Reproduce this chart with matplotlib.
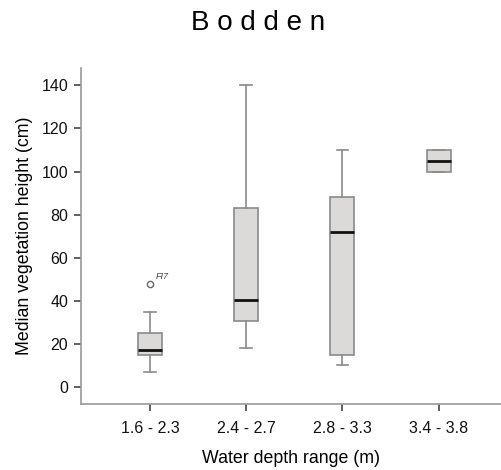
import matplotlib
matplotlib.use('Agg')
import matplotlib.pyplot as plt

plt.rcParams['font.family'] = ['Liberation Sans', 'DejaVu Sans']

# box statistics
groups = ['1.6 - 2.3', '2.4 - 2.7', '2.8 - 3.3', '3.4 - 3.8']
whislo = [7, 18, 10, 100]
q1 = [15, 30.5, 15, 100]
med = [17, 40.5, 72, 105]
q3 = [25, 83, 88, 110]
whishi = [35, 140, 110, 110]
fliers = [[48], [], [], []]
flier_label = 'FI7'

stats = []
for i in range(len(groups)):
    stats.append({'whislo': whislo[i], 'q1': q1[i], 'med': med[i], 'q3': q3[i],
                  'whishi': whishi[i], 'fliers': fliers[i], 'label': groups[i]})

fig = plt.figure(figsize=(5.02, 4.70), dpi=100)
ax = fig.add_axes([0.161, 0.140, 0.839, 0.715])

edge = '#8a8a8a'
ax.bxp(stats, positions=range(len(groups)), widths=0.25, patch_artist=True,
       boxprops=dict(facecolor='#dcd9d9', edgecolor=edge, linewidth=1.2),
       medianprops=dict(color='#111111', linewidth=2.0),
       whiskerprops=dict(color=edge, linewidth=1.2),
       capprops=dict(color=edge, linewidth=1.2),
       capwidths=0.12,
       flierprops=dict(marker='o', markersize=4.5, markerfacecolor='white',
                       markeredgecolor='#666666', markeredgewidth=1.0))

ax.annotate(flier_label, (0, fliers[0][0]), xytext=(4, 3), textcoords='offset points',
            fontsize=6.5, style='italic', color='#444444')

ax.set_xlim(-0.72, 3.66)
ax.set_ylim(-8, 148)
ax.set_yticks(range(0, 141, 20))
ax.set_xticks(range(len(groups)))
ax.set_xticklabels(groups)

for s in ['top', 'right']:
    ax.spines[s].set_visible(False)
for s in ['left', 'bottom']:
    ax.spines[s].set_color('#999999')
    ax.spines[s].set_linewidth(1.2)
ax.tick_params(direction='out', length=5, width=1.2, color='#444444',
               labelsize=11.5, labelcolor='#111111')
ax.tick_params(axis='x', pad=7)
ax.tick_params(axis='y', pad=4)

ax.set_xlabel('Water depth range (m)', fontsize=12.8, labelpad=10)
ax.set_ylabel('Median vegetation height (cm)', fontsize=12.8, labelpad=6)
fig.text(0.514, 0.950, ' '.join('Bodden'), ha='center', va='center', fontsize=20)

fig.savefig('out.png', dpi=100)
